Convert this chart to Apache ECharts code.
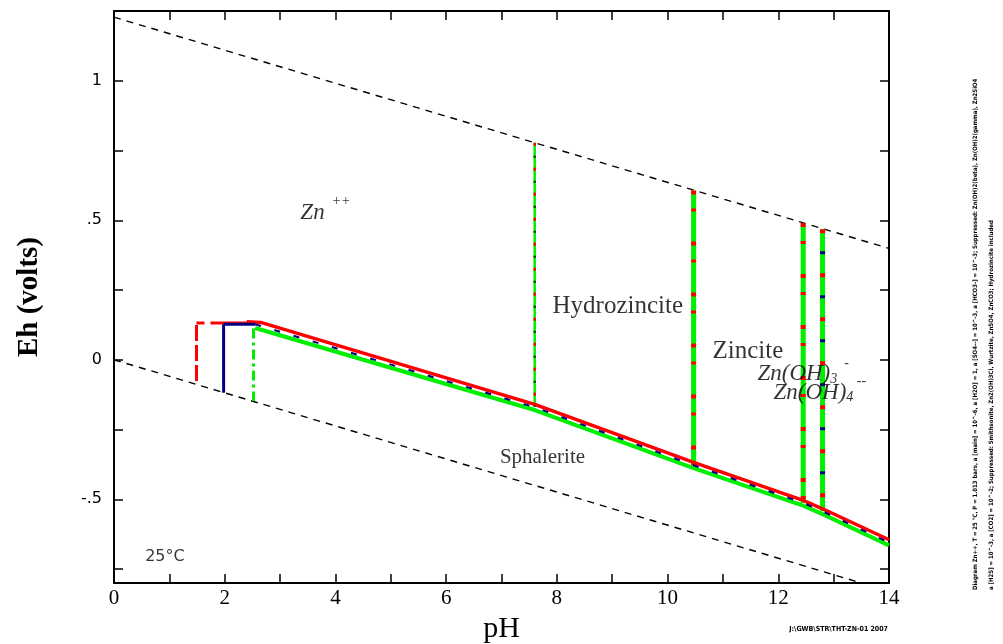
<!DOCTYPE html>
<html>
<head>
<meta charset="utf-8">
<script src="https://cdn.jsdelivr.net/npm/echarts@6/dist/echarts.min.js"></script>
<style>
html,body{margin:0;padding:0;background:#fff;}
#chart{width:1003px;height:644px;}
</style>
</head>
<body>
<div id="chart"></div>
<script>
// ---- data ----
const xRange = [0, 14];
const yRange = [-0.8, 1.25];
const xTickValues = [0,1,2,3,4,5,6,7,8,9,10,11,12,13,14];
const xLabelValues = [0,2,4,6,8,10,12,14];
const yTickValues = [-0.75,-0.5,-0.25,0,0.25,0.5,0.75,1];
const yLabelValues = [-0.5,0,0.5,1];

// water stability limits (dashed)
const waterUpper = [[0,1.228],[14,0.399]];
const waterLower = [[0,0],[13.5,-0.8]];

// main boundary with sphalerite (three coloured traces)
const boundaryGreen = [[2.55,0.114],[7.6,-0.18],[10.47,-0.388],[12.45,-0.523],[12.8,-0.553],[14,-0.665]];
const boundaryRed   = [[2.4,0.136],[2.65,0.134],[7.6,-0.16],[10.47,-0.368],[12.45,-0.504],[12.8,-0.534],[14,-0.645]];
const boundaryBlue  = [[2.55,0.127],[7.6,-0.17],[10.47,-0.378],[12.45,-0.513],[12.8,-0.543],[14,-0.655]];

// low-pH limits
const redLeftV   = [[1.49,0.125],[1.49,-0.088]];
const redLeftH   = [[1.49,0.132],[2.45,0.132]];
const blueLeftV  = [[1.98,0.127],[1.98,-0.118]];
const blueLeftH  = [[1.98,0.127],[2.55,0.127]];
const greenLeftV = [[2.52,0.112],[2.52,-0.148]];

// vertical field boundaries
const hydrozinciteEdge = [[7.6,0.778],[7.6,-0.168]];
const zinciteEdge      = [[10.47,0.607],[10.47,-0.378]];
const znoh3Edge        = [[12.45,0.49],[12.45,-0.513]];
const znoh4Edge        = [[12.8,0.468],[12.8,-0.543]];

// field labels
const labelNames = ['Zn++','Hydrozincite','Zincite','Zn(OH)3-','Zn(OH)4--','Sphalerite','25°C'];
const labelPH    = [3.82, 9.1, 11.45, 12.45, 12.75, 7.74, 0.92];
const labelEh    = [0.54, 0.19, 0.03, -0.04, -0.105, -0.35, -0.706];

const footerText = 'J:\\GWB\\STR\\THT-ZN-01 2007';
const sideText1 = 'Diagram Zn++, T = 25 °C, P = 1.013 bars, a [main] = 10^-6, a [H2O] = 1, a [SO4--] = 10^-3, a [HCO3-] = 10^-3; Suppressed: Zn(OH)2(beta), Zn(OH)2(gamma), Zn2SiO4';
const sideText2 = 'a [H2S] = 10^-3, a [CO2] = 10^-2; Suppressed: Smithsonite, Zn2(OH)3Cl, Wurtzite, ZnSO4, ZnCO3; Hydrozincite included';

// ---- chart ----
const serif = 'Liberation Serif';
const chart = echarts.init(document.getElementById('chart'), null, {renderer:'canvas'});

function lineSeries(data, color, width, type, z, extra) {
  return Object.assign({
    type: 'line', data: data, symbol: 'none', silent: true, z: z || 2,
    lineStyle: {color: color, width: width, type: type || 'solid', cap: 'butt'}
  }, extra || {});
}

const richStyles = {
  i:   {fontFamily: serif, fontStyle: 'italic', fontSize: 23, color: '#000', lineHeight: 30, verticalAlign: 'bottom'},
  sup: {fontFamily: serif, fontStyle: 'italic', fontSize: 14, color: '#000', lineHeight: 30, verticalAlign: 'top'},
  sub: {fontFamily: serif, fontStyle: 'italic', fontSize: 14, color: '#000', lineHeight: 22, verticalAlign: 'bottom'},
  r:   {fontFamily: serif, fontSize: 21, color: '#000'},
  big: {fontFamily: serif, fontSize: 25, color: '#000'},
  s:   {fontFamily: 'DejaVu Sans', fontSize: 16, color: '#000'}
};
function labelText(name) {
  if (name === 'Zn++') return '{i|Zn}{sup|  ++}';
  if (name === 'Zn(OH)3-') return '{i|Zn(OH)}{sub|3}{sup|  -}';
  if (name === 'Zn(OH)4--') return '{i|Zn(OH)}{sub|4}{sup| --}';
  if (name === '25°C') return '{s|25°C}';
  if (name === 'Hydrozincite' || name === 'Zincite') return '{big|' + name + '}';
  return '{r|' + name + '}';
}

const labelData = labelNames.map((n, i) => ({
  value: [labelPH[i], labelEh[i]],
  label: {formatter: labelText(n)}
}));

const axisCommon = {
  axisLine: {show: true, onZero: false, lineStyle: {color: '#000', width: 2}},
  splitLine: {show: false}
};

const option = {
  animation: false,
  backgroundColor: '#fff',
  grid: {left: 114, right: 114, top: 11, bottom: 61, containLabel: false, outerBoundsMode: 'none'},
  xAxis: [
    Object.assign({
      type: 'value', min: xRange[0], max: xRange[1], interval: 1, position: 'bottom',
      axisTick: {inside: true, length: 9, lineStyle: {color: '#000', width: 1.5}, customValues: xTickValues},
      axisLabel: {customValues: xLabelValues, fontFamily: serif, fontSize: 21, color: '#000', margin: 5},
      name: 'pH', nameLocation: 'middle', nameGap: 27,
      nameTextStyle: {fontFamily: serif, fontSize: 30, color: '#000'}
    }, axisCommon),
    Object.assign({
      type: 'value', min: xRange[0], max: xRange[1], interval: 1, position: 'top',
      axisTick: {inside: true, length: 9, lineStyle: {color: '#000', width: 1.5}, customValues: xTickValues},
      axisLabel: {show: false}
    }, axisCommon)
  ],
  yAxis: [
    Object.assign({
      type: 'value', min: yRange[0], max: yRange[1], interval: 0.25, position: 'left',
      axisTick: {inside: true, length: 9, lineStyle: {color: '#000', width: 1.5}, customValues: yTickValues},
      axisLabel: {customValues: yLabelValues, fontFamily: 'DejaVu Sans', fontSize: 16, color: '#000', margin: 12,
        formatter: v => v === 0 ? '0' : String(v).replace('0.', '.')},
      name: 'Eh (volts)', nameLocation: 'middle', nameGap: 70, nameRotate: 90,
      nameTextStyle: {fontFamily: serif, fontSize: 29, fontWeight: 'bold', color: '#000'}
    }, axisCommon),
    Object.assign({
      type: 'value', min: yRange[0], max: yRange[1], interval: 0.25, position: 'right',
      axisTick: {inside: true, length: 9, lineStyle: {color: '#000', width: 1.5}, customValues: yTickValues},
      axisLabel: {show: false}
    }, axisCommon)
  ],
  series: [
    lineSeries(waterUpper, '#000', 1.4, [7, 6], 2),
    lineSeries(waterLower, '#000', 1.4, [7, 6], 2),

    lineSeries(boundaryGreen, '#00ee00', 4, 'solid', 3),
    lineSeries(boundaryRed, '#ff0000', 3.5, 'solid', 4),
    lineSeries(boundaryBlue, '#000080', 2, [6, 14], 5),

    lineSeries(redLeftV, '#ff0000', 3, [16, 4], 4),
    lineSeries(redLeftH, '#ff0000', 3, [8, 6, 40, 4], 4),
    lineSeries(blueLeftV, '#000080', 3, 'solid', 5),
    lineSeries(blueLeftH, '#000080', 3, 'solid', 5),
    lineSeries(greenLeftV, '#00ee00', 3, [10, 4, 3, 4], 4),

    lineSeries(hydrozinciteEdge, '#00ee00', 2.5, 'solid', 3),
    lineSeries(hydrozinciteEdge, '#ff0000', 2.5, [3, 22], 4),
    lineSeries(hydrozinciteEdge, '#222222', 2.5, [2, 23], 4, {lineStyle: {color: '#222', width: 2.5, type: [2, 23], dashOffset: 12}}),

    lineSeries(zinciteEdge, '#00ee00', 5, 'solid', 3),
    lineSeries(zinciteEdge, '#ff0000', 5, [4, 14, 3, 30], 4),
    lineSeries(znoh3Edge, '#00ee00', 5, 'solid', 3),
    lineSeries(znoh3Edge, '#ff0000', 5, [4, 14, 3, 30], 4),
    lineSeries(znoh4Edge, '#00ee00', 5, 'solid', 3),
    lineSeries(znoh4Edge, '#ff0000', 5, [4, 40], 4),
    lineSeries(znoh4Edge, '#000080', 5, [3, 41], 4, {lineStyle: {color: '#000080', width: 5, type: [3, 41], dashOffset: 22}}),

    {
      type: 'scatter', data: labelData, symbolSize: 0, silent: true, z: 10,
      label: {show: true, position: 'inside', color: '#000', textBorderWidth: 0, rich: richStyles}
    }
  ],
  graphic: [
    {type: 'text', x: 888, y: 629, z: 20, style: {text: footerText, font: 'bold 7px "DejaVu Sans Condensed", "DejaVu Sans"', fill: '#000', align: 'right', verticalAlign: 'middle'}},
    {type: 'text', x: 975, y: 590, rotation: Math.PI / 2, z: 20, style: {text: sideText1, font: 'bold 6px "DejaVu Sans Condensed", "DejaVu Sans"', fill: '#000', align: 'left', verticalAlign: 'middle'}},
    {type: 'text', x: 991, y: 590, rotation: Math.PI / 2, z: 20, style: {text: sideText2, font: 'bold 6px "DejaVu Sans Condensed", "DejaVu Sans"', fill: '#000', align: 'left', verticalAlign: 'middle'}}
  ]
};
chart.setOption(option);
</script>
</body>
</html>
